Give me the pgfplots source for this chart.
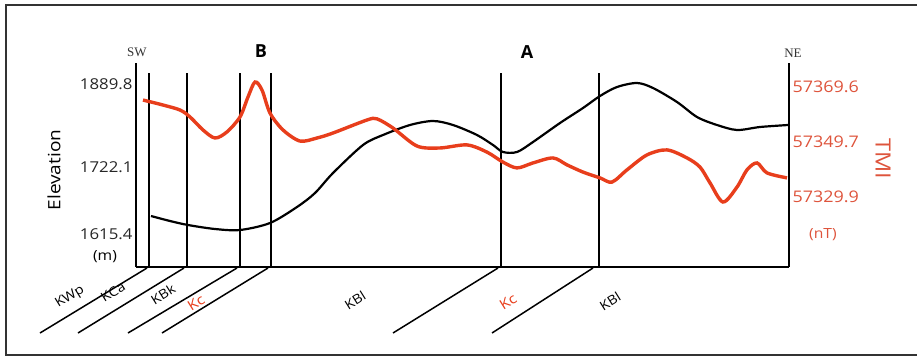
\documentclass[border=0pt]{standalone}
\usepackage{fontspec}
\setmainfont{Open Sans}[FakeStretch=1.12]
\newfontfamily\seriffont{Liberation Serif}
\newfontfamily\plainsans{Open Sans}
\usepackage{pgfplots}
\pgfplotsset{compat=1.18}
\definecolor{tmired}{RGB}{232,62,28}
\definecolor{tmitext}{RGB}{222,84,60}
\begin{document}
\begin{tikzpicture}
\begin{axis}[
 scale only axis, width=653pt, height=204pt,
 xmin=136, xmax=789, ymin=0, ymax=204,
 axis x line*=bottom, axis y line*=left,
 axis line style={line width=2.6pt, -},
 xtick=\empty,
 ytick={183,100,33}, yticklabels={1889.8,1722.1,1615.4},
 major tick length=0pt,
 yticklabel style={font=\fontsize{15}{17}\selectfont, text=black!85},
 /pgf/number format/assume math mode=true,
 clip=false,
]
% outer frame
\draw[line width=2.5pt, black!80] (axis cs:940,262) -- (axis cs:6,262) -- (axis cs:6,-88) -- (axis cs:940,-88);
\coordinate (bbA) at (axis cs:0,267);
\coordinate (bbB) at (axis cs:917,-93);
% elevation profile (plot units)
\addplot[black, line width=2.2pt, smooth] coordinates {
(151,51)(170,46)(188,42)(215,38)(240,37)(270,44)(297,60)(315,74)(333,94)(363,122)(383,132)(410,142)(433,146)(453,142)(477,132)(493,122)(503,115)(517,115)(533,125)(560,144)(583,159)(600,171)(617,180)(637,184)(653,179)(677,165)(697,150)(717,142)(737,137)(760,140)(788,142)};
% contacts
\addplot[black, line width=1.5pt] coordinates {(149,0)(149,194)};
\addplot[black, line width=1.5pt] coordinates {(187,0)(187,194)};
\addplot[black, line width=1.5pt] coordinates {(240,0)(240,194)};
\addplot[black, line width=1.5pt] coordinates {(271,0)(271,194)};
\addplot[black, line width=1.5pt] coordinates {(501,0)(501,194)};
\addplot[black, line width=1.5pt] coordinates {(599,0)(599,194)};
% dipping contacts below
\addplot[black, line width=1.5pt] coordinates {(147,-1)(40,-66)};
\addplot[black, line width=1.5pt] coordinates {(184,-1)(78,-66)};
\addplot[black, line width=1.5pt] coordinates {(237,-1)(128,-66)};
\addplot[black, line width=1.5pt] coordinates {(268,-1)(162,-66)};
\addplot[black, line width=1.5pt] coordinates {(498,-1)(393,-66)};
\addplot[black, line width=1.5pt] coordinates {(593,-1)(492,-66)};
% texts
\node[font=\fontsize{17}{20}\selectfont, rotate=90] at (axis cs:54,97) {Elevation};
\node[font=\fontsize{14}{16}\selectfont] at (axis cs:105,10) {(m)};
\node[font=\seriffont\fontsize{13}{15}\selectfont, text=black!80] at (axis cs:137,215) {SW};
\node[font=\seriffont\fontsize{13}{15}\selectfont, text=black!80] at (axis cs:793,214) {NE};
\node[font=\plainsans\bfseries\fontsize{18}{20}\selectfont] at (axis cs:261,216) {B};
\node[font=\plainsans\bfseries\fontsize{18}{20}\selectfont] at (axis cs:527,215) {A};
\node[font=\fontsize{21}{24}\selectfont, rotate=-90, text=tmitext] at (axis cs:883,108) {TMI};
\node[font=\fontsize{14}{16}\selectfont, text=tmitext] at (axis cs:823,32) {(nT)};
\node[font=\fontsize{13}{15}\selectfont, rotate=32, inner sep=0pt] at (axis cs:70,-30) {KWp};
\node[font=\fontsize{13}{15}\selectfont, rotate=32, inner sep=0pt] at (axis cs:113,-25) {KCa};
\node[font=\fontsize{13}{15}\selectfont, rotate=32, inner sep=0pt] at (axis cs:163,-27) {KBk};
\node[font=\fontsize{14}{16}\selectfont, rotate=32, inner sep=0pt, text=tmired] at (axis cs:196,-36) {Kc};
\node[font=\fontsize{13}{15}\selectfont, rotate=32, inner sep=0pt] at (axis cs:355,-33) {KBl};
\node[font=\fontsize{14}{16}\selectfont, rotate=32, inner sep=0pt, text=tmired] at (axis cs:508,-35) {Kc};
\node[font=\fontsize{13}{15}\selectfont, rotate=32, inner sep=0pt] at (axis cs:610,-34) {KBl};
\end{axis}
\begin{axis}[
 scale only axis, width=653pt, height=204pt,
 xmin=136, xmax=789, ymin=57304.64, ymax=57378.27,
 axis y line*=right, axis x line=none,
 axis line style={line width=2.6pt, -},
 scaled y ticks=false,
 ytick={57369.6,57349.7,57329.9},
 yticklabels={57369.6,57349.7,57329.9},
 major tick length=0pt,
 yticklabel style={font=\fontsize{16}{18}\selectfont, text=tmitext},
 clip=false,
]
\addplot[tmired, line width=3.4pt, smooth] coordinates {
(143,57364.9)(163,57363.1)(180,57361.3)(190,57358.8)(203,57354.1)(215,57351.2)(227,57353.4)(240,57358.8)(248,57366.0)(255,57371.4)(262,57368.5)(270,57360.2)(283,57354.1)(300,57350.1)(317,57351.2)(333,57353.0)(367,57357.7)(377,57358.1)(393,57354.8)(417,57348.3)(440,57347.6)(467,57348.7)(487,57346.1)(503,57342.5)(517,57340.4)(533,57342.2)(553,57344.0)(567,57341.5)(583,57338.9)(600,57336.8)(612,57335.3)(627,57339.7)(647,57345.1)(667,57346.9)(687,57344.0)(700,57340.7)(710,57335.0)(723,57328.1)(737,57333.5)(747,57339.7)(757,57342.2)(767,57338.6)(787,57336.8)};
\end{axis}
\pgfresetboundingbox
\path[use as bounding box] (bbA) rectangle (bbB);
\end{tikzpicture}
\end{document}
